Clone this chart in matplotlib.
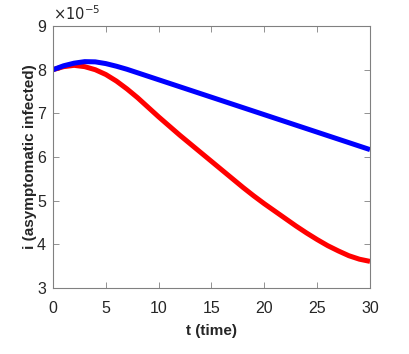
import matplotlib
matplotlib.use("Agg")
import matplotlib.pyplot as plt
import numpy as np

plt.rcParams['font.family'] = ['Liberation Sans', 'DejaVu Sans']

t = list(range(0, 31))
i_blue = [8.00, 8.09, 8.15, 8.185, 8.18, 8.14, 8.08, 8.01, 7.93, 7.85,
          7.77, 7.69, 7.61, 7.53, 7.45, 7.37, 7.29, 7.21, 7.13, 7.05,
          6.97, 6.89, 6.81, 6.73, 6.65, 6.57, 6.49, 6.41, 6.33, 6.25, 6.17]
i_red = [8.00, 8.07, 8.10, 8.07, 8.00, 7.89, 7.74, 7.56, 7.36, 7.14,
         6.92, 6.71, 6.50, 6.30, 6.10, 5.90, 5.70, 5.50, 5.30, 5.11,
         4.93, 4.76, 4.59, 4.42, 4.26, 4.11, 3.97, 3.85, 3.74, 3.66, 3.61]
scale = 1e-5
xticks = [0, 5, 10, 15, 20, 25, 30]
yticks = [3, 4, 5, 6, 7, 8, 9]

fig = plt.figure(figsize=(4.09, 3.54), dpi=100)
ax = fig.add_axes([0.1296, 0.1864, 0.775, 0.740])

tt = np.array(t, dtype=float)
ax.plot(tt, np.array(i_red) * scale, color='#ff0000', lw=3.6, solid_capstyle='butt')
ax.plot(tt, np.array(i_blue) * scale, color='#0000ff', lw=3.6, solid_capstyle='butt')

ax.set_xlim(0, 30)
ax.set_ylim(3e-5, 9e-5)
ax.set_xticks(xticks)
ax.set_xticklabels([str(v) for v in xticks])
ax.set_yticks([v * scale for v in yticks])
ax.set_yticklabels([str(v) for v in yticks])

gray = '#262626'
for s in ax.spines.values():
    s.set_color('#808080')
    s.set_linewidth(0.8)
ax.tick_params(direction='in', top=True, right=True, length=4, width=0.6,
               color='#808080', labelsize=11.5, labelcolor=gray)
ax.tick_params(axis='x', pad=9)
ax.tick_params(axis='y', pad=5)

ax.set_xlabel('t (time)', fontsize=11, fontweight='bold', color=gray, labelpad=6)
ax.set_ylabel('i (asymptomatic infected)', fontsize=11, fontweight='bold', color=gray, labelpad=0)

ax.text(0.0, 1.01, r'$\times 10^{-5}$', transform=ax.transAxes, fontsize=10.5,
        color=gray, ha='left', va='bottom')

fig.savefig('out.png', dpi=100)
